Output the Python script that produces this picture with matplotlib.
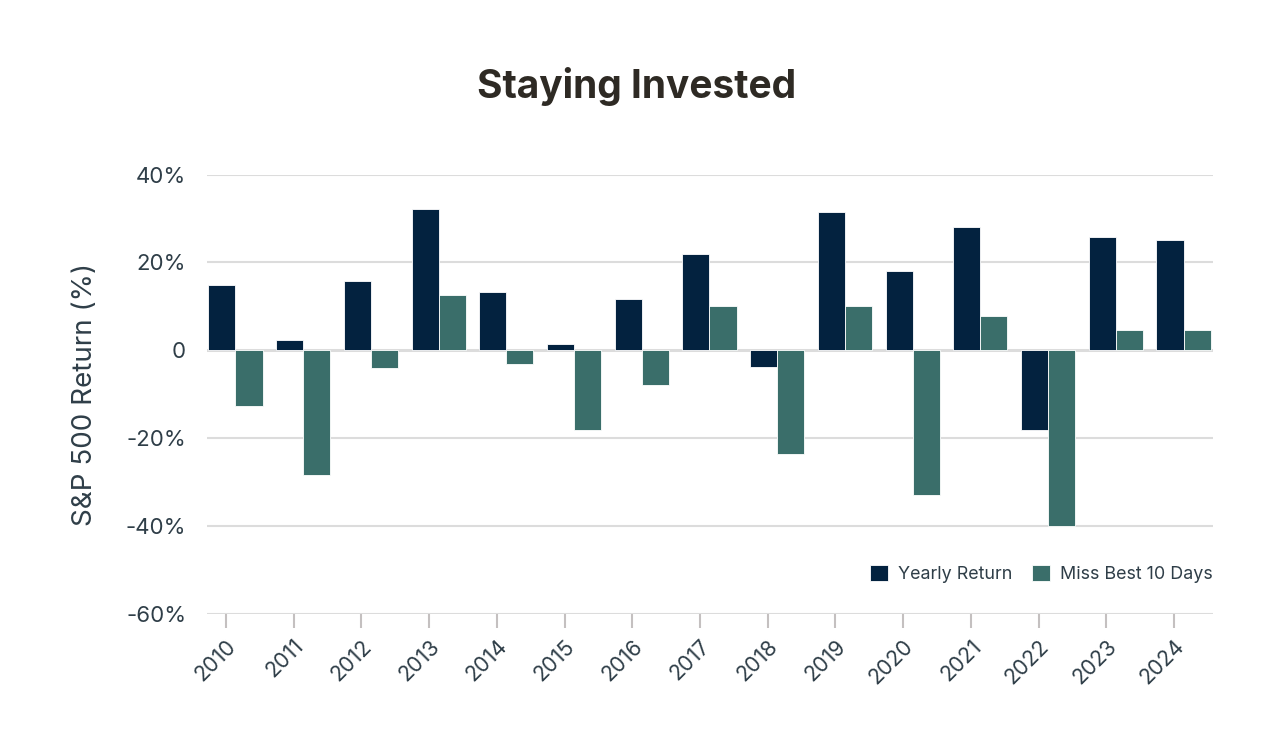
import numpy as np
import matplotlib
matplotlib.use("Agg")
import matplotlib.pyplot as plt

years = ["2010", "2011", "2012", "2013", "2014", "2015", "2016", "2017",
         "2018", "2019", "2020", "2021", "2022", "2023", "2024"]
yearly_return = [14.8, 2.3, 15.7, 32.1, 13.3, 1.5, 11.7, 22.0,
                 -3.9, 31.4, 18.0, 28.2, -18.1, 25.8, 25.1]
miss_best_10 = [-12.7, -28.4, -4.0, 12.5, -3.2, -18.1, -7.9, 10.1,
                -23.6, 10.2, -33.0, 7.8, -40.0, 4.7, 4.7]
y_ticks = [-60, -40, -20, 0, 20, 40]
y_tick_labels = ["-60%", "-40%", "-20%", "0", "20%", "40%"]

plt.rcParams['font.family'] = ['Inter', 'DejaVu Sans']

navy = "#03223f"
teal = "#3a6e6a"
text_col = "#2f3e48"

fig = plt.figure(figsize=(12.74, 7.56), dpi=100)
ax = fig.add_axes([207 / 1274, 1 - 613.7 / 756, (1213 - 207) / 1274, (613.7 - 174.7) / 756])

x = np.arange(len(years))
w = 0.4
ax.bar(x - w / 2, yearly_return, w, color=navy, edgecolor="white", linewidth=0.6,
       label="Yearly Return", zorder=3)
ax.bar(x + w / 2, miss_best_10, w, color=teal, edgecolor="white", linewidth=0.6,
       label="Miss Best 10 Days", zorder=3)

ax.set_xlim(-0.42, len(years) - 1 + 0.435)
ax.set_ylim(-60, 40)

ax.set_yticks(y_ticks)
ax.set_yticklabels(y_tick_labels)
ax.tick_params(axis="y", length=0, pad=15, labelsize=16, labelcolor=text_col)
for v in y_ticks:
    ax.axhline(v, color="#dcdcdc", linewidth=2.2 if v == 0 else 1.5, zorder=1)

ax.set_xticks(x - 0.14)
ax.set_xticklabels(years, rotation=45, ha="right", rotation_mode="anchor")
ax.tick_params(axis="x", length=10, width=1.5, color="#c4c0c0", pad=6,
               labelsize=15.5, labelcolor=text_col)

for s in ax.spines.values():
    s.set_visible(False)

ax.set_ylabel("S&P 500 Return (%)", fontsize=20, color=text_col, labelpad=20)

fig.text(0.5, 1 - 86 / 756, "Staying Invested", ha="center", va="center",
         fontsize=28, fontweight="bold", color="#2e2a24")

ax.legend(loc="lower right", bbox_to_anchor=(1.0, 0.07), ncol=2, frameon=False,
          fontsize=12.9, labelcolor=text_col, handlelength=1.0, handleheight=1.0,
          handletextpad=0.6, columnspacing=1.05, borderaxespad=0, borderpad=0)

fig.savefig("out.png", dpi=100, facecolor="white")
